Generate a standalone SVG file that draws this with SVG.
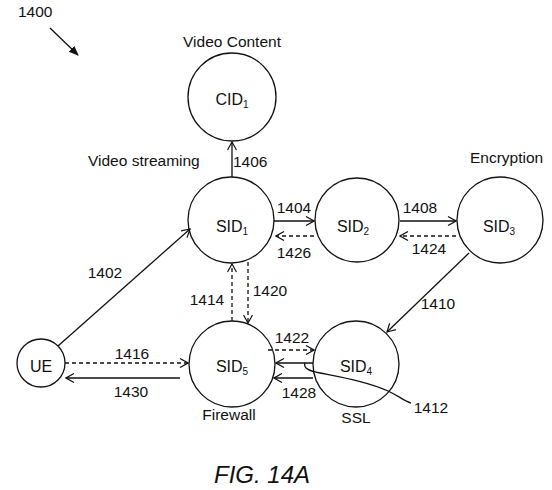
<svg xmlns="http://www.w3.org/2000/svg" width="552" height="490" viewBox="0 0 552 490">
<style>
text{font-family:"Liberation Sans",Arial,sans-serif;fill:#111}
.lbl{font-size:15.5px}
.nd{font-size:16px;text-anchor:middle}
.sub{font-size:10px}
circle{fill:#fff;stroke:#111;stroke-width:1.3}
.c line,.c path{stroke:#111;stroke-width:1.3;fill:none}
.d{stroke-dasharray:4 3}
.m{text-anchor:middle}
</style>
<defs>
<marker id="a" markerWidth="10" markerHeight="10" refX="9" refY="5" orient="auto" markerUnits="userSpaceOnUse">
<path d="M1,0.5 L9,5 L1,9.5" fill="none" stroke="#111" stroke-width="1.2"/>
</marker>
<marker id="f" markerWidth="10" markerHeight="10" refX="9" refY="5" orient="auto" markerUnits="userSpaceOnUse">
<path d="M0,1 L10,5 L0,9 Z" fill="#111"/>
</marker>
</defs>
<text class="lbl" x="18" y="17">1400</text>
<g id="CID1"><circle cx="232" cy="97" r="44"/><text class="nd" x="232" y="105">CID<tspan class="sub" dy="3">1</tspan></text></g>
<g id="SID1"><circle cx="231" cy="220" r="43"/><text class="nd" x="232" y="232">SID<tspan class="sub" dy="3">1</tspan></text></g>
<g id="SID2"><circle cx="357" cy="220" r="42"/><text class="nd" x="353" y="232">SID<tspan class="sub" dy="3">2</tspan></text></g>
<g id="SID3"><circle cx="500" cy="220" r="43"/><text class="nd" x="499" y="232">SID<tspan class="sub" dy="3">3</tspan></text></g>
<g id="SID5"><circle cx="232" cy="364" r="43"/><text class="nd" x="232" y="372">SID<tspan class="sub" dy="3">5</tspan></text></g>
<g id="SID4"><circle cx="356" cy="364" r="43"/><text class="nd" x="356" y="372">SID<tspan class="sub" dy="3">4</tspan></text></g>
<g id="UE"><circle cx="41" cy="363" r="24"/><text class="nd" x="41" y="372">UE</text></g>
<g class="c" id="connectors">
<line x1="50" y1="28" x2="78" y2="55" marker-end="url(#f)"/>
<line x1="232" y1="177" x2="232" y2="142" marker-end="url(#a)"/>
<line x1="58" y1="346" x2="190" y2="229" marker-end="url(#a)"/>
<line x1="274" y1="221" x2="314" y2="221" marker-end="url(#a)"/>
<line class="d" x1="314" y1="236" x2="276" y2="236" marker-end="url(#a)"/>
<line x1="400" y1="221" x2="456" y2="221" marker-end="url(#a)"/>
<line class="d" x1="456" y1="236" x2="400" y2="236" marker-end="url(#a)"/>
<line x1="469" y1="253" x2="387" y2="332" marker-end="url(#a)"/>
<line class="d" x1="232" y1="321" x2="232" y2="264" marker-end="url(#a)"/>
<line class="d" x1="248" y1="262" x2="248" y2="323" marker-end="url(#a)"/>
<line class="d" x1="268" y1="350" x2="314" y2="350" marker-end="url(#a)"/>
<line x1="313" y1="363" x2="276" y2="363" marker-end="url(#a)"/>
<line x1="313" y1="378" x2="274" y2="378" marker-end="url(#a)"/>
<line class="d" x1="65" y1="363" x2="188" y2="363" marker-end="url(#a)"/>
<line x1="180" y1="378" x2="66" y2="378" marker-end="url(#a)"/>
<path d="M305,363 C303,368 309,371 320,373 C345,378 368,382 388,391 C399,396 404,401 411,403"/>
</g>
<g class="lbl">
<text class="m" x="232" y="47">Video Content</text>
<text x="88" y="166">Video streaming</text>
<text x="233" y="167">1406</text>
<text x="470" y="163">Encryption</text>
<text class="m" x="294" y="213">1404</text>
<text class="m" x="294" y="258">1426</text>
<text class="m" x="420" y="213">1408</text>
<text class="m" x="429" y="254">1424</text>
<text class="m" x="105" y="278">1402</text>
<text class="m" x="207" y="305">1414</text>
<text class="m" x="270" y="296">1420</text>
<text class="m" x="438" y="309">1410</text>
<text class="m" x="292" y="343">1422</text>
<text class="m" x="132" y="359">1416</text>
<text class="m" x="131" y="397">1430</text>
<text class="m" x="299" y="398">1428</text>
<text class="m" x="431" y="413">1412</text>
<text class="m" x="229" y="420">Firewall</text>
<text class="m" x="356" y="423">SSL</text>
</g>
<text x="262" y="483" text-anchor="middle" font-size="24" font-style="italic">FIG. 14A</text>
</svg>
